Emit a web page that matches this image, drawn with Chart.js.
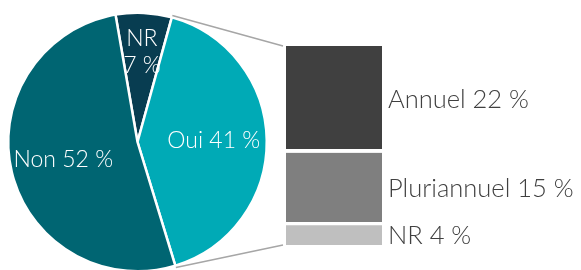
<!DOCTYPE html>
<html lang="fr">
<head>
<meta charset="UTF-8">
<title>Réponses</title>
<script src="https://cdn.jsdelivr.net/npm/chart.js"></script>
<style>
  * { margin: 0; padding: 0; box-sizing: border-box; }
  html, body { width: 581px; height: 270px; overflow: hidden; background: #fff; }
  #pieBox { position: absolute; left: 0; top: 0; width: 276px; height: 284px; }
  #barBox { position: absolute; left: 286px; top: 0; width: 295px; height: 270px; }
  #lines { position: absolute; left: 0; top: 0; pointer-events: none; }
</style>
</head>
<body>
<div id="pieBox"><canvas id="pie"></canvas></div>
<div id="barBox"><canvas id="bar"></canvas></div>
<canvas id="lines" width="581" height="270"></canvas>
<script>
// camembert principal
const pieLabels = ["NR", "Oui", "Non"];
const pieValues = [7, 41, 52];
const pieColors = ["#083d51", "#00aab6", "#006572"];
const pieText = [["NR", "7 %"], ["Oui 41 %"], ["Non 52 %"]];

// détail du "Oui"
const barLabels = ["NR", "Pluriannuel", "Annuel"];
const barValues = [4, 15, 22];
const barColors = ["#bfbfbf", "#7f7f7f", "#404040"];

const police = "'Lato', 'Open Sans', sans-serif";

const texteCamembert = {
    id: 'texteCamembert',
    afterDatasetsDraw(chart) {
        const ctx = chart.ctx;
        const arcs = chart.getDatasetMeta(0).data;
        ctx.save();
        ctx.fillStyle = "#fff";
        ctx.font = "300 23px " + police;
        ctx.textAlign = "center";
        ctx.textBaseline = "middle";
        arcs.forEach((arc, i) => {
            const mid = (arc.startAngle + arc.endAngle) / 2;
            const lignes = pieText[i];
            const r = lignes.length > 1 ? arc.outerRadius * 0.70 : arc.outerRadius * 0.59;
            const cx = arc.x + Math.cos(mid) * r;
            const cy = arc.y + Math.sin(mid) * r;
            lignes.forEach((t, j) => {
                ctx.fillText(t, cx, cy + (j - (lignes.length - 1) / 2) * 27);
            });
        });
        ctx.restore();
    }
};

const texteBarres = {
    id: 'texteBarres',
    afterDatasetsDraw(chart) {
        const ctx = chart.ctx;
        ctx.save();
        ctx.fillStyle = "#404040";
        ctx.font = "300 25.5px " + police;
        ctx.textBaseline = "middle";
        chart.data.datasets.forEach((ds, i) => {
            const b = chart.getDatasetMeta(i).data[0];
            const y = (b.y + b.base) / 2;
            ctx.fillText(ds.label + " " + ds.data[0] + " %", b.x + b.width / 2 + 6, y);
        });
        ctx.restore();
    }
};

const pie = new Chart(document.getElementById('pie'), {
    type: 'pie',
    data: {
        labels: pieLabels,
        datasets: [{
            data: pieValues,
            backgroundColor: pieColors,
            borderColor: "#fff",
            borderWidth: 2.5
        }]
    },
    options: {
        responsive: true,
        maintainAspectRatio: false,
        animation: false,
        rotation: -9.8,
        layout: { padding: { left: 7, right: 8, top: 8, bottom: 8 } },
        plugins: { legend: { display: false }, tooltip: { enabled: false } }
    },
    plugins: [texteCamembert]
});

const bar = new Chart(document.getElementById('bar'), {
    type: 'bar',
    data: {
        labels: ["Oui"],
        datasets: barLabels.map((l, i) => ({
            label: l,
            data: [barValues[i]],
            backgroundColor: barColors[i],
            borderColor: "#fff",
            borderWidth: i === 0 ? 0 : { bottom: 4, top: 0, left: 0, right: 0 },
            borderSkipped: false
        }))
    },
    options: {
        responsive: true,
        maintainAspectRatio: false,
        animation: false,
        layout: { padding: { top: 46, bottom: 25, left: 0, right: 199 } },
        datasets: { bar: { barPercentage: 1, categoryPercentage: 1 } },
        scales: {
            x: { stacked: true, display: false },
            y: { stacked: true, display: false, min: 0, max: 41 }
        },
        plugins: { legend: { display: false }, tooltip: { enabled: false } }
    },
    plugins: [texteBarres]
});

// traits de liaison entre le camembert et la barre
function traits() {
    const c = document.getElementById('lines').getContext('2d');
    const arcs = pie.getDatasetMeta(0).data;
    const box = document.getElementById('barBox').offsetLeft;
    const haut = bar.getDatasetMeta(2).data[0];
    const bas = bar.getDatasetMeta(0).data[0];
    const a1 = arcs[1].startAngle, a2 = arcs[1].endAngle;
    const r = arcs[1].outerRadius + 2;
    c.strokeStyle = "#a6a6a6";
    c.lineWidth = 1.5;
    c.beginPath();
    c.moveTo(arcs[1].x + Math.cos(a1) * r, arcs[1].y + Math.sin(a1) * r);
    c.lineTo(box + haut.x - haut.width / 2 - 3, haut.y);
    c.moveTo(arcs[1].x + Math.cos(a2) * r, arcs[1].y + Math.sin(a2) * r);
    c.lineTo(box + bas.x - bas.width / 2 - 3, bas.base);
    c.stroke();
}
traits();
</script>
</body>
</html>
